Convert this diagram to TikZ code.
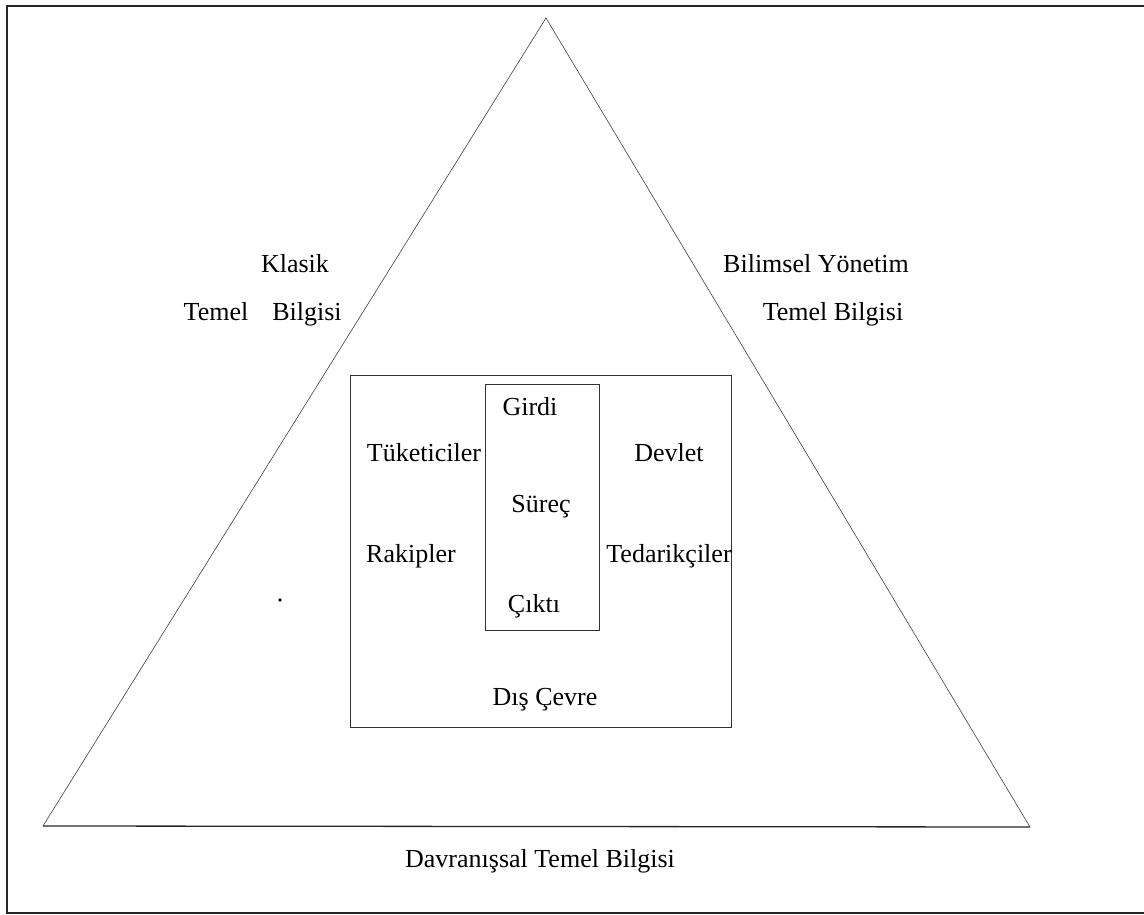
\documentclass[tikz,border=0pt]{standalone}
\usepackage{fontspec}
\setmainfont{Liberation Serif}
\begin{document}
\begin{tikzpicture}[x=1pt,y=-1pt,
  lbl/.style={anchor=base,inner sep=0pt,font=\fontsize{26}{30}\selectfont},
  side/.style={draw=black!75,line width=0.6pt},
  basel/.style={draw=black!85,line width=1.3pt},
  boxline/.style={draw=black!80,line width=0.8pt},
  frameline/.style={draw=black!85,line width=1.2pt}]
\useasboundingbox (0,0) rectangle (1144,915);

% page frame (open on the right)
\draw[frameline] (1144,6) -- (7,6) -- (7,913) -- (1144,913);

% triangle corners
\coordinate (apex) at (546,18);
\coordinate (bl) at (43,826);
\coordinate (br) at (1030,827);
\draw[side] (bl) -- (apex) -- (br);
\draw[basel] (bl) -- (br);

% environment box and process box
\draw[boxline] (350,375) rectangle (731,727);
\draw[boxline] (485,384) rectangle (599,630);

% side labels
\node[lbl] (klasik) at (295,272) {Klasik};
\node[lbl] (temelL) at (216,320) {Temel};
\node[lbl] (bilgiL) at (307,320) {Bilgisi};
\node[lbl] (bilim) at (816,272) {Bilimsel Yönetim};
\node[lbl] (temelR) at (833,320) {Temel Bilgisi};
\node[lbl] (davr) at (540,867) {Davranışsal Temel Bilgisi};

% inner labels
\node[lbl] (girdi) at (530,415) {Girdi};
\node[lbl] (tuket) at (424,461) {Tüketiciler};
\node[lbl] (devlet) at (669,461) {Devlet};
\node[lbl] (surec) at (541,512) {Süreç};
\node[lbl] (rakip) at (411,562) {Rakipler};
\node[lbl] (tedarik) at (669,562) {Tedarikçiler};
\node[lbl] (cikti) at (534,612) {Çıktı};
\node[lbl] (dis) at (545,705) {Dış Çevre};

% stray mark
\fill[black] (280,600) circle (1.8pt);
\end{tikzpicture}
\end{document}
